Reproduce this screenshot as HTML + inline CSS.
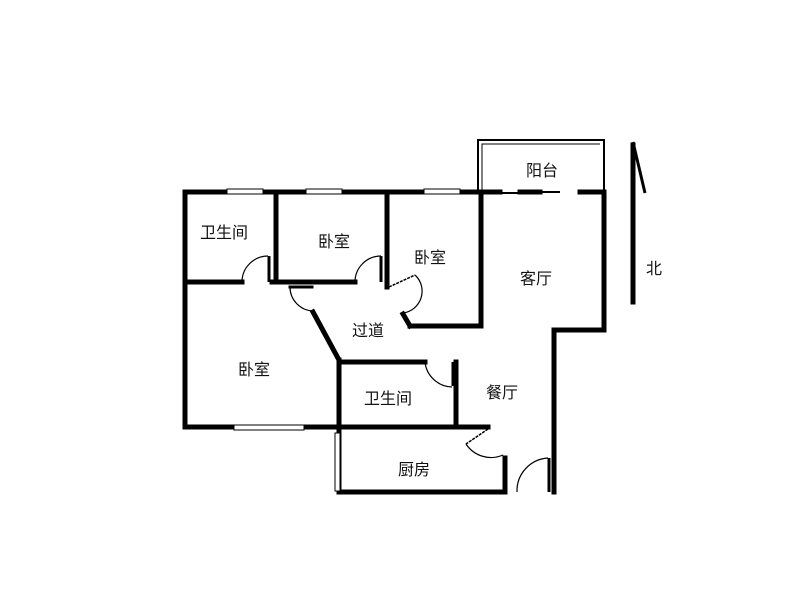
<!DOCTYPE html>
<html><head><meta charset="utf-8"><style>
html,body{margin:0;padding:0;background:#fff;width:800px;height:600px;overflow:hidden}
text{font-family:"Liberation Sans","Noto Sans CJK SC",sans-serif;font-size:16px;fill:#111}
</style></head><body>
<svg width="800" height="600" viewBox="0 0 800 600" xmlns="http://www.w3.org/2000/svg">
<g stroke="#000" stroke-width="5" fill="none" stroke-linecap="square">
<!-- top wall -->
<line x1="185" y1="192" x2="478" y2="192"/>
<line x1="185" y1="192" x2="185" y2="427"/>
<line x1="185" y1="427" x2="338" y2="427"/>
<!-- bathroom1/bed1 -->
<line x1="185" y1="282" x2="242" y2="282"/>
<line x1="272" y1="282" x2="355" y2="282"/>
<line x1="276" y1="192" x2="276" y2="282"/>
<line x1="387" y1="192" x2="387" y2="287"/>
<!-- corridor -->
<line x1="290" y1="287" x2="312" y2="287" stroke-width="3"/>
<line x1="313" y1="312" x2="339" y2="360"/>
<line x1="339" y1="360" x2="339" y2="492"/>
<line x1="339" y1="362" x2="425" y2="362"/>
<line x1="456" y1="362" x2="456" y2="427"/>
<line x1="339" y1="427" x2="488" y2="427"/>
<line x1="505" y1="458" x2="505" y2="492"/>
<line x1="339" y1="492" x2="505" y2="492"/>
<line x1="554" y1="330" x2="554" y2="492"/>
<line x1="554" y1="330" x2="604" y2="330"/>
<line x1="604" y1="192" x2="604" y2="330"/>
<line x1="481" y1="192" x2="481" y2="326"/>
<line x1="410" y1="326" x2="481" y2="326"/>
<line x1="403" y1="314" x2="410" y2="326"/>
<!-- balcony wall -->
<line x1="478" y1="192" x2="500" y2="192"/>
<line x1="520" y1="192" x2="540" y2="192"/>
<line x1="580" y1="192" x2="604" y2="192"/>
<!-- north arrow -->
<line x1="633" y1="145" x2="633" y2="302"/>
</g>
<g stroke="#000" stroke-width="2" fill="none">
<line x1="500" y1="193" x2="520" y2="193" stroke-width="2"/>
<line x1="540" y1="192" x2="560" y2="192" stroke-width="2"/>
<!-- balcony outline -->
<polyline points="478,192 478,140 604,140 604,192" stroke-width="2"/>
<polyline points="482,192 482,144 600,144" stroke-width="1"/>
<polyline points="633,142 645,193" stroke-width="3"/>
<!-- door jambs -->
<line x1="269" y1="256" x2="269" y2="282" stroke-width="3"/>
<line x1="381" y1="256" x2="381" y2="282" stroke-width="3"/>
<line x1="453" y1="362" x2="453" y2="386" stroke-width="3"/>
<line x1="549" y1="458" x2="549" y2="492" stroke-width="3"/>
<!-- arcs -->
<path d="M242,282 A26,26 0 0 1 268,256" stroke-width="1.2"/>
<path d="M355,282 A26,26 0 0 1 381,256" stroke-width="1.2"/>
<path d="M290,287 A24,24 0 0 0 313,311" stroke-width="1.2"/>
<path d="M415,275 A22,22 0 0 1 403,313" stroke-width="1.2"/>
<line x1="389" y1="287" x2="415" y2="275" stroke-width="1.5" stroke-dasharray="3,1"/>
<path d="M425,362 A28,28 0 0 0 452,387" stroke-width="1.2"/>
<line x1="488" y1="429" x2="466" y2="444" stroke-width="1.5" stroke-dasharray="3,1"/>
<path d="M466,444 A30,30 0 0 0 503,455" stroke-width="1.2"/>
<path d="M517,492 A33,33 0 0 1 548,458" stroke-width="1.2"/>
</g>
<!-- windows -->
<g fill="#fff" stroke="#000" stroke-width="1">
<rect x="227" y="189" width="36" height="5"/>
<rect x="306" y="189" width="36" height="5"/>
<rect x="424" y="189" width="36" height="5"/>
<rect x="234" y="425" width="70" height="5"/>
<rect x="335" y="433" width="5" height="58"/>
</g>
<text x="200" y="238">卫生间</text>
<text x="318" y="247">卧室</text>
<text x="414" y="263">卧室</text>
<text x="352" y="336">过道</text>
<text x="238" y="375">卧室</text>
<text x="364" y="404">卫生间</text>
<text x="486" y="398">餐厅</text>
<text x="398" y="475">厨房</text>
<text x="526" y="176">阳台</text>
<text x="520" y="284">客厅</text>
<text x="646" y="274">北</text>
</svg>
</body></html>
